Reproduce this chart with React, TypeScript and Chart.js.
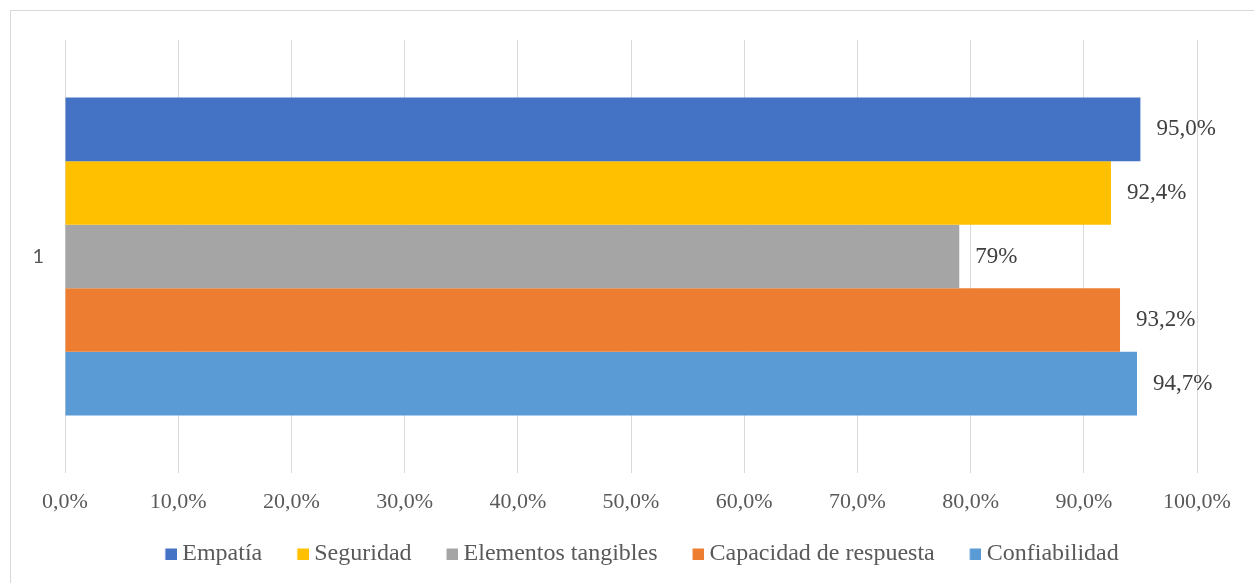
import { useEffect, useRef } from 'react';
import { Chart, registerables } from 'chart.js';

Chart.register(...registerables);

// Single category, five service-quality dimensions
const categories = ['1'];
const seriesNames = ['Empatía', 'Seguridad', 'Elementos tangibles', 'Capacidad de respuesta', 'Confiabilidad'];
const seriesValues = [95.0, 92.4, 79, 93.2, 94.7];
const valueLabels = ['95,0%', '92,4%', '79%', '93,2%', '94,7%'];
const seriesColors = ['#4472C4', '#FFC000', '#A5A5A5', '#ED7D31', '#5B9BD5'];
const tickLabels = ['0,0%', '10,0%', '20,0%', '30,0%', '40,0%', '50,0%', '60,0%', '70,0%', '80,0%', '90,0%', '100,0%'];

const SERIF = '"Liberation Serif", "Times New Roman", serif';

// Legend swatch: a small square sitting close to the label text
function makeSwatch(color: string): HTMLCanvasElement {
  const c = document.createElement('canvas');
  c.width = 24;
  c.height = 12;
  const g = c.getContext('2d')!;
  g.fillStyle = color;
  g.fillRect(12.5, 0.5, 11.5, 11.5);
  return c;
}

// Writes each bar's value just past its end
const barValueLabels = {
  id: 'barValueLabels',
  afterDatasetsDraw(chart: any) {
    const { ctx } = chart;
    ctx.save();
    ctx.font = `23px ${SERIF}`;
    ctx.fillStyle = '#404040';
    ctx.textAlign = 'left';
    ctx.textBaseline = 'middle';
    chart.data.datasets.forEach((_ds: any, i: number) => {
      const meta = chart.getDatasetMeta(i);
      meta.data.forEach((bar: any) => {
        ctx.fillText(valueLabels[i], bar.x + 16, bar.y);
      });
    });
    ctx.restore();
  },
};

export default function App() {
  const canvasRef = useRef<HTMLCanvasElement | null>(null);

  useEffect(() => {
    if (!canvasRef.current) return;
    const chart = new Chart(canvasRef.current, {
      type: 'bar',
      data: {
        labels: categories,
        datasets: seriesNames.map((name, i) => ({
          label: name,
          data: [seriesValues[i]],
          backgroundColor: seriesColors[i],
          borderWidth: 0,
          pointStyle: makeSwatch(seriesColors[i]),
          categoryPercentage: 0.734,
          barPercentage: 1,
        })),
      },
      options: {
        indexAxis: 'y',
        responsive: false,
        devicePixelRatio: 1,
        animation: false,
        layout: { padding: { left: 24, right: 0, top: 40, bottom: 7 } },
        plugins: {
          tooltip: { enabled: false },
          legend: {
            position: 'bottom',
            labels: {
              usePointStyle: true,
              boxWidth: 11,
              boxHeight: 11,
              padding: 29,
              color: '#595959',
              font: { family: SERIF, size: 24 },
            },
          },
        },
        scales: {
          x: {
            min: 0,
            max: 100,
            ticks: {
              stepSize: 10,
              padding: 16,
              color: '#595959',
              maxRotation: 0,
              autoSkip: false,
              font: { family: SERIF, size: 22 },
              callback: (_v: any, idx: number) => tickLabels[idx],
            },
            grid: { color: '#d9d9d9', lineWidth: 1, drawTicks: false },
            border: { display: false },
            afterFit: (axis: any) => {
              axis.height = 40;
              axis.paddingRight = 57;
            },
          },
          y: {
            ticks: {
              padding: 21,
              color: '#595959',
              font: { family: 'Lato, "Open Sans", sans-serif', size: 20 },
            },
            grid: { display: false, drawTicks: false },
            border: { display: false },
            afterFit: (axis: any) => {
              axis.width = 41;
            },
          },
        },
      },
      plugins: [barValueLabels],
    });
    return () => chart.destroy();
  }, []);

  return (
    <div style={{ position: 'fixed', inset: 0, overflow: 'hidden', background: '#ffffff' }}>
      <div
        style={{
          position: 'absolute',
          left: 10,
          top: 10,
          width: 1400,
          height: 800,
          border: '1px solid #d9d9d9',
        }}
      />
      <canvas
        ref={canvasRef}
        width={1254}
        height={583}
        style={{ position: 'absolute', left: 0, top: 0, width: 1254, height: 583 }}
      />
    </div>
  );
}
